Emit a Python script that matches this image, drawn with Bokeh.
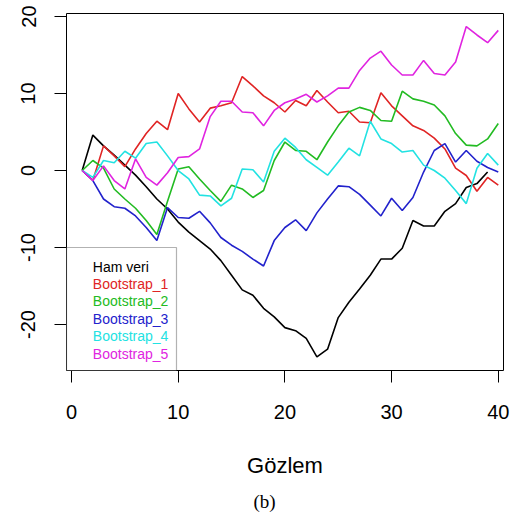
from bokeh.plotting import figure
from bokeh.models import FixedTicker, Range1d, BoxAnnotation, Label, Title
from bokeh.embed import file_html
from bokeh.resources import INLINE

# ---- data ----
ham_veri = [0, 4.6, 3.2, 2.0, 0.7, -0.6, -2.1, -3.7, -5.0, -6.7, -8.0, -9.1, -10.2, -11.7,
            -13.6, -15.5, -16.2, -17.9, -19.0, -20.4, -20.8, -21.8, -24.2, -23.2, -19.1,
            -17.1, -15.4, -13.6, -11.5, -11.5, -10.1, -6.5, -7.2, -7.2, -5.3, -4.3, -2.2,
            -1.7, -0.2]
bootstrap_1 = [0, -1.3, 3.2, 1.9, 0.5, 2.8, 4.8, 6.4, 5.3, 10.0, 8.0, 6.3, 8.1, 8.4, 8.8,
               12.2, 11.0, 9.7, 8.8, 7.6, 9.1, 8.4, 10.4, 8.9, 7.5, 7.7, 6.3, 6.2, 10.1,
               8.4, 7.1, 5.8, 5.2, 4.2, 2.8, 0.3, -0.65, -2.7, -0.9, -1.9]
bootstrap_2 = [0, 1.3, 0.3, -2.4, -3.7, -4.9, -6.5, -8.3, -4.0, 0.2, 0.5, -1.1, -2.6, -4.0,
               -1.9, -2.4, -3.5, -2.6, 1.3, 3.7, 2.6, 2.5, 1.4, 3.7, 5.8, 7.6, 8.2, 7.8,
               6.5, 6.4, 10.3, 9.3, 9.0, 8.5, 7.1, 4.8, 3.3, 3.2, 4.1, 6.1]
bootstrap_3 = [0, -1.3, -3.7, -4.7, -4.9, -5.9, -7.4, -9.1, -4.8, -6.1, -6.2, -5.3, -6.8,
               -8.7, -9.7, -10.5, -11.5, -12.4, -9.1, -7.4, -6.4, -7.8, -5.5, -3.7, -2.0,
               -2.1, -3.1, -4.5, -5.9, -3.6, -5.2, -3.5, -0.2, 2.6, 3.5, 1.1, 2.6, 1.2,
               0.4, -0.2]
bootstrap_4 = [0, -0.9, 1.3, 1.0, 2.5, 1.6, 3.5, 3.7, 1.9, 0.0, -1.1, -3.2, -3.3, -4.6,
               -3.6, 0.2, 0.1, -1.5, 2.5, 4.2, 3.0, 1.4, 0.4, -0.6, 1.1, 2.9, 1.9, 6.4,
               4.1, 3.5, 2.4, 2.6, 0.7, 0.0, -1.0, -2.6, -4.3, 0.3, 2.2, 0.7]
bootstrap_5 = [0, -1.3, 0.6, -1.3, -2.4, 1.5, -0.9, -1.9, -0.3, 1.7, 1.8, 2.8, 7.0, 9.0,
               9.0, 7.6, 7.5, 5.8, 7.8, 8.8, 9.3, 9.9, 8.9, 9.7, 10.7, 10.7, 13.0, 14.6,
               15.5, 13.7, 12.4, 12.4, 14.3, 12.6, 12.4, 14.1, 18.7, 17.6, 16.6, 18.2]

series_names = ["Ham veri", "Bootstrap_1", "Bootstrap_2", "Bootstrap_3", "Bootstrap_4", "Bootstrap_5"]
series_values = [ham_veri, bootstrap_1, bootstrap_2, bootstrap_3, bootstrap_4, bootstrap_5]
series_colors = ["#000000", "#E02424", "#22BB22", "#2222CC", "#22E2E2", "#E024E0"]
x_ticks = [0, 10, 20, 30, 40]
y_ticks = [-20, -10, 0, 10, 20]
y_tick_labels = ["-20", "-10", "0", "10", "20"]
x_label = "Gözlem"
caption = "(b)"

SANS = "Liberation Sans"

p = figure(width=516, height=519, output_backend="svg", toolbar_location=None,
           x_range=Range1d(-0.47, 40.49), y_range=Range1d(-25.97, 20.39),
           min_border_left=66, min_border_right=13, min_border_top=13, min_border_bottom=149)
p.background_fill_color = "white"
p.border_fill_color = "white"
p.outline_line_color = "black"
p.outline_line_width = 1
p.xgrid.grid_line_color = None
p.ygrid.grid_line_color = None

for vals, col in zip(series_values, series_colors):
    xs = list(range(1, len(vals) + 1))
    p.line(xs, vals, line_color=col, line_width=1.6)

for ax in (p.xaxis[0], p.yaxis[0]):
    ax.axis_line_color = None
    ax.major_tick_out = 12
    ax.major_tick_in = 0
    ax.minor_tick_line_color = None
    ax.major_tick_line_color = "black"
    ax.major_label_text_font = SANS
    ax.major_label_text_font_size = "20px"
    ax.major_label_text_color = "black"

p.xaxis[0].ticker = FixedTicker(ticks=x_ticks)
p.yaxis[0].ticker = FixedTicker(ticks=y_ticks)
p.yaxis[0].major_label_overrides = {t: s for t, s in zip(y_ticks, y_tick_labels)}
p.xaxis[0].major_label_standoff = 22
p.yaxis[0].major_label_standoff = 19
p.yaxis[0].major_label_orientation = "vertical"

p.xaxis[0].axis_label = x_label
p.xaxis[0].axis_label_text_font = SANS
p.xaxis[0].axis_label_text_font_size = "22px"
p.xaxis[0].axis_label_text_font_style = "normal"
p.xaxis[0].axis_label_text_color = "black"
p.xaxis[0].axis_label_standoff = 31

# caption below the axis
p.add_layout(Title(text=caption, align="left", offset=187, text_font="Liberation Serif",
                   text_font_size="19px", text_font_style="normal", text_color="black",
                   standoff=16), "below")

# legend box (bottom-left, like R's legend)
x0 = p.x_range.start
y0 = p.y_range.start
p.add_layout(BoxAnnotation(left=x0, right=9.84, bottom=y0, top=-10.0,
                           fill_color="white", fill_alpha=1.0,
                           line_color="black", line_width=1.2, level="overlay"))
for i, (name, col) in enumerate(zip(series_names, series_colors)):
    py = 266 + 17.4 * i
    yv = (170 - py) / 7.7
    p.add_layout(Label(x=2.0, y=yv, text=name, text_color=col, text_font=SANS,
                       text_font_size="14px", text_baseline="middle", text_align="left",
                       level="overlay"))

open("out.html", "w").write(file_html(p, INLINE))
